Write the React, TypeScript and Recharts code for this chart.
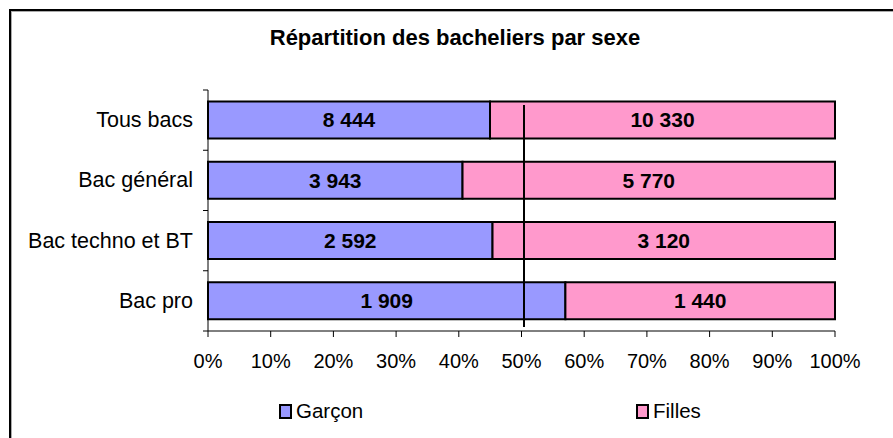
import { BarChart, Bar, XAxis, YAxis, LabelList, ReferenceLine } from "recharts";

const categories = ["Tous bacs", "Bac général", "Bac techno et BT", "Bac pro"];
const garcons = [8444, 3943, 2592, 1909];
const filles = [10330, 5770, 3120, 1440];
const xTicks = [0, 10, 20, 30, 40, 50, 60, 70, 80, 90, 100];
const middleMark = 50.4;

const W = 893;
const H = 438;
const PLOT_LEFT = 208;
const PLOT_TOP = 90;
const PLOT_BOTTOM = 331;
const BAND = (PLOT_BOTTOM - PLOT_TOP) / categories.length;
const FONT = '"Liberation Sans", Arial, sans-serif';

const fmt = (n: number) => n.toString().replace(/\B(?=(\d{3})+(?!\d))/g, " ");

const rows = categories.map((name, i) => {
  const total = garcons[i] + filles[i];
  return {
    name,
    garcon: (garcons[i] / total) * 100,
    fille: (filles[i] / total) * 100,
    garconLabel: fmt(garcons[i]),
    filleLabel: fmt(filles[i]),
  };
});

const CategoryTick = (props: any) => {
  const { y, payload, index } = props;
  return (
    <g>
      <text x={PLOT_LEFT - 15} y={y} textAnchor="end" dominantBaseline="central" fontSize={21.5} fill="#000" fontFamily={FONT}>
        {payload.value}
      </text>
      <line x1={PLOT_LEFT - 5} x2={PLOT_LEFT} y1={y - BAND / 2} y2={y - BAND / 2} stroke="#000" />
      {index === categories.length - 1 && (
        <line x1={PLOT_LEFT - 5} x2={PLOT_LEFT} y1={y + BAND / 2} y2={y + BAND / 2} stroke="#000" />
      )}
    </g>
  );
};

const MidLine = (props: any) => {
  const top = Math.min(props.y1, props.y2);
  const bottom = Math.max(props.y1, props.y2);
  return <line x1={props.x1} x2={props.x2} y1={top + 15} y2={bottom - 4} stroke="#000" strokeWidth={2} />;
};

const LegendItem = ({ left, color, label }: { left: number; color: string; label: string }) => (
  <div style={{ position: "absolute", left, top: 400, height: 22, display: "flex", alignItems: "center" }}>
    <div style={{ width: 9, height: 11, border: "2px solid #000", background: color, marginRight: 4 }} />
    <span style={{ fontSize: 20.5, fontFamily: FONT, color: "#000" }}>{label}</span>
  </div>
);

export default function App() {
  return (
    <div style={{ position: "absolute", left: 0, top: 0, width: W, height: H, overflow: "hidden", background: "#fff" }}>
      <div
        style={{
          position: "absolute",
          left: 9,
          top: 9,
          width: 920,
          height: 460,
          border: "2px solid #000",
          boxShadow: "inset 1px 1px 0 #aaa",
        }}
      />
      <div
        style={{
          position: "absolute",
          left: 0,
          width: 910,
          top: 25,
          textAlign: "center",
          fontFamily: FONT,
          fontWeight: "bold",
          fontSize: 22,
          lineHeight: 1.15,
          color: "#000",
        }}
      >
        Répartition des bacheliers par sexe
      </div>
      <div style={{ position: "absolute", left: 0, top: 0 }}>
        <BarChart
          width={W}
          height={H}
          data={rows}
          layout="vertical"
          barCategoryGap="19%"
          margin={{ top: PLOT_TOP, right: W - 835, bottom: H - PLOT_BOTTOM - 30, left: 0 }}
        >
          <XAxis
            type="number"
            domain={[0, 100]}
            ticks={xTicks}
            interval={0}
            height={30}
            tickFormatter={(v) => `${v}%`}
            axisLine={{ stroke: "#000" }}
            tickLine={{ stroke: "#000" }}
            tickSize={6}
            tickMargin={17}
            tick={{ fontSize: 20, fill: "#000", fontFamily: FONT }}
          />
          <YAxis
            type="category"
            dataKey="name"
            width={PLOT_LEFT}
            axisLine={{ stroke: "#000" }}
            tickLine={false}
            tick={<CategoryTick />}
            interval={0}
          />
          <Bar dataKey="garcon" stackId="a" fill="#9999FF" stroke="#000" strokeWidth={2} isAnimationActive={false}>
            <LabelList dataKey="garconLabel" position="center" fill="#000" fontSize={21} fontWeight="bold" fontFamily={FONT} />
          </Bar>
          <Bar dataKey="fille" stackId="a" fill="#FF99CC" stroke="#000" strokeWidth={2} isAnimationActive={false}>
            <LabelList dataKey="filleLabel" position="center" fill="#000" fontSize={21} fontWeight="bold" fontFamily={FONT} />
          </Bar>
          <ReferenceLine x={middleMark} stroke="#000" shape={<MidLine />} />
        </BarChart>
      </div>
      <LegendItem left={279} color="#9999FF" label="Garçon" />
      <LegendItem left={636} color="#FF99CC" label="Filles" />
    </div>
  );
}
